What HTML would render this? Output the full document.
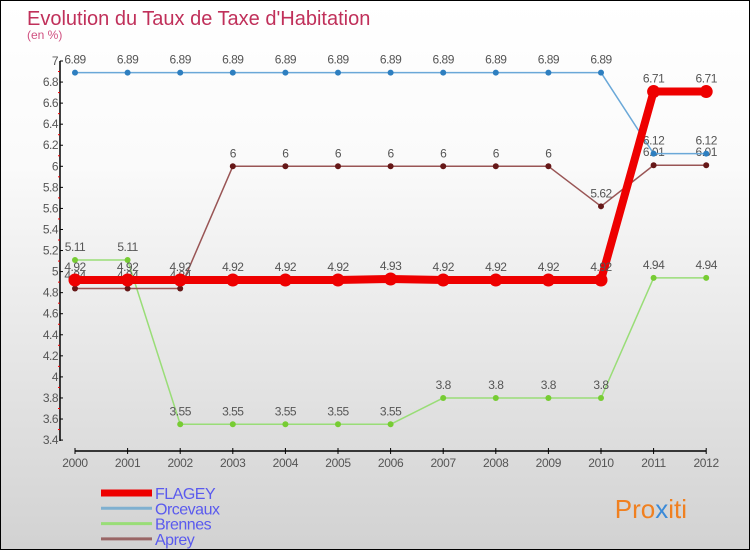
<!DOCTYPE html>
<html><head><meta charset="utf-8"><style>
body{margin:0}
#c{width:748px;height:548px;border:1px solid #000;background:linear-gradient(#fff,#fafafa 30%,#d2d2d2);position:relative;font-family:"Liberation Sans",sans-serif}
svg text{font-family:"Liberation Sans",sans-serif}
</style></head><body>
<div id="c">
<svg id="s" width="748" height="548" xmlns="http://www.w3.org/2000/svg">
<text x="26" y="24" font-size="20" fill="#c0305a">Evolution du Taux de Taxe d'Habitation</text>
<text x="26" y="38" font-size="12" fill="#d05080">(en %)</text>
<text x="686" y="517" font-size="26" fill="#f08020" text-anchor="end">Pro<tspan fill="#3a8ad8">x</tspan>iti</text>
</svg></div>
<script>
const years=[2000,2001,2002,2003,2004,2005,2006,2007,2008,2009,2010,2011,2012];
const flagey=[4.92,4.92,4.92,4.92,4.92,4.92,4.93,4.92,4.92,4.92,4.92,6.71,6.71];
const orcevaux=[6.89,6.89,6.89,6.89,6.89,6.89,6.89,6.89,6.89,6.89,6.89,6.12,6.12];
const brennes=[5.11,5.11,3.55,3.55,3.55,3.55,3.55,3.8,3.8,3.8,3.8,4.94,4.94];
const aprey=[4.84,4.84,4.84,6,6,6,6,6,6,6,5.62,6.01,6.01];
const yTicks=[3.4,3.6,3.8,4,4.2,4.4,4.6,4.8,5,5.2,5.4,5.6,5.8,6,6.2,6.4,6.6,6.8,7];
const NS="http://www.w3.org/2000/svg",s=document.getElementById('s');
const X=i=>74+i*52.6, Y=v=>60+(7-v)*105.3;
function el(t,a,p){const e=document.createElementNS(NS,t);for(const k in a)e.setAttribute(k,a[k]);(p||s).appendChild(e);return e;}
let ya=el('line',{x1:59,y1:60,x2:59,y2:440,stroke:'#000','stroke-width':1.5});


let xa=el('line',{x1:74,y1:450,x2:705,y2:450,stroke:'#000','stroke-width':1.5});


yTicks.forEach(v=>{
 el('line',{x1:59,y1:Y(v),x2:62,y2:Y(v),stroke:'#000'});
 if(v<7)el('line',{x1:57,y1:Y(v+0.1),x2:59,y2:Y(v+0.1),stroke:'#e00'});
 const t=el('text',{x:57,y:Y(v)+4,'font-size':12,'text-anchor':'end',fill:'#555','letter-spacing':'-0.5'});
 t.textContent=String(v);
 
 
});
years.forEach((y,i)=>{
 el('line',{x1:X(i),y1:447,x2:X(i),y2:453,stroke:'#000'});
 const t=el('text',{x:X(i),y:466,'font-size':12,'text-anchor':'middle',fill:'#555','letter-spacing':'-0.3'});
 t.textContent=y;
 
 
});
function series(name,data,col,w,r,dot){
 const g=el('g',{});
 
 
 el('polyline',{points:data.map((v,i)=>X(i)+','+Y(v)).join(' '),fill:'none',stroke:col,'stroke-width':w,'stroke-linejoin':'round'},g);
 data.forEach((v,i)=>{
  const c=el('circle',{cx:X(i),cy:Y(v),r:r,fill:dot},g);
  
  
  const t=el('text',{x:X(i),y:Y(v)-9,'font-size':12,'text-anchor':'middle',fill:'#555','letter-spacing':'-0.5'},g);
  t.textContent=String(v);
 });
}
series('brennes',brennes,'#99dd77',1.5,3,'#77cc33');
series('aprey',aprey,'#995555',1.5,3,'#661818');
series('orcevaux',orcevaux,'#6aa8d8',1.5,3,'#2e7fc0');
series('flagey',flagey,'#ee0000',8,6.5,'#ee0000');
const names=['FLAGEY','Orcevaux','Brennes','Aprey'],cols=['#ee0000','#7fb0d0','#99dd77','#996666'],ws=[7,3,3,3];
names.forEach((n,i)=>{
 const y=492+i*15.3;
 const g=el('g',{});
 
 
 el('line',{x1:100,y1:y,x2:151,y2:y,stroke:cols[i],'stroke-width':ws[i]},g);
 const t=el('text',{x:154,y:y+6,'font-size':16,fill:'#5a5aee','letter-spacing':'-0.5'},g);
 t.textContent=n;
});
</script>
</body></html>
